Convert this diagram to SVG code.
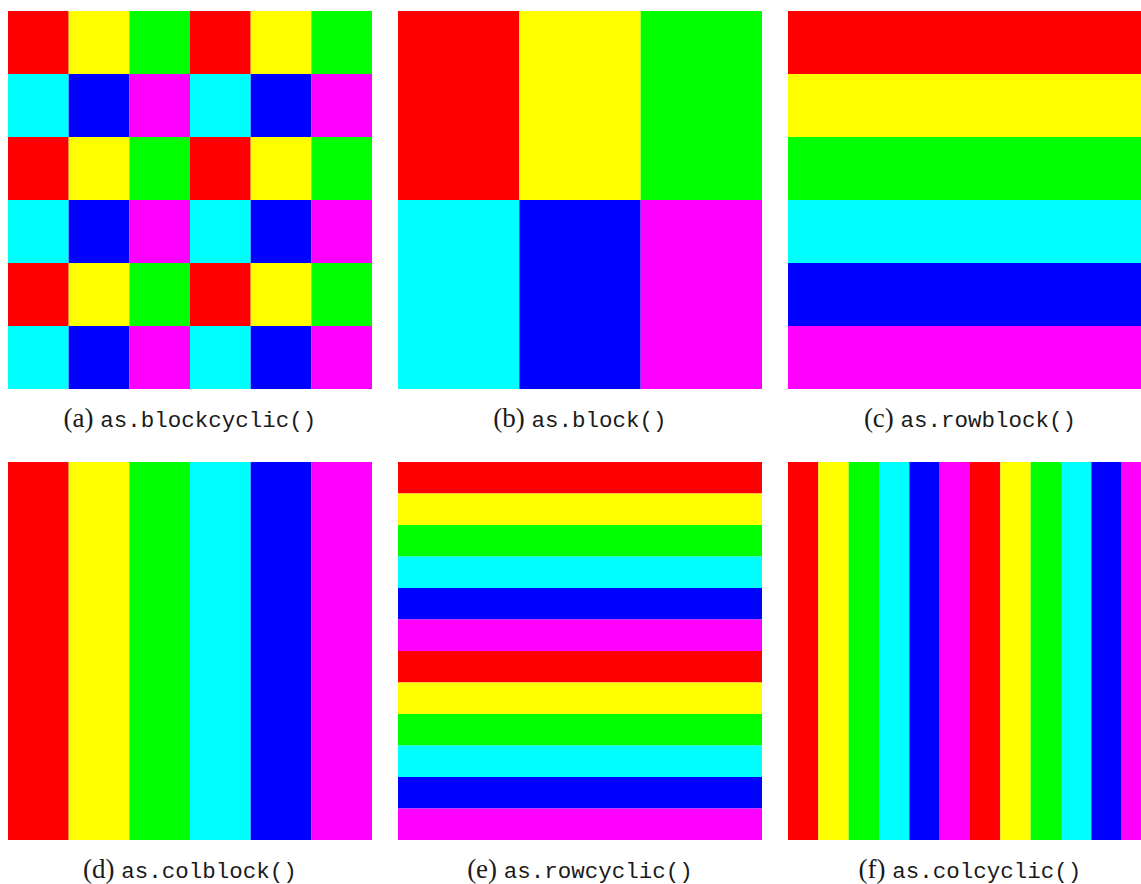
<svg xmlns="http://www.w3.org/2000/svg" width="1141" height="884" viewBox="0 0 1141 884">
<style>
.r{fill:#ff0000}.y{fill:#ffff00}.g{fill:#00ff00}.c{fill:#00ffff}.b{fill:#0000ff}.m{fill:#ff00ff}
.cap{font-family:"Liberation Serif","DejaVu Serif",serif;font-size:27px;fill:#1a1a1a}
.tt{font-family:"Liberation Mono","DejaVu Sans Mono",monospace;font-size:22.5px}
</style>
<rect width="1141" height="884" fill="#fff"/>
<g id="panel-a">
<rect class="r" x="8" y="11" width="60.67" height="63"/><rect class="y" x="68.67" y="11" width="60.67" height="63"/><rect class="g" x="129.33" y="11" width="60.67" height="63"/><rect class="r" x="190" y="11" width="60.67" height="63"/><rect class="y" x="250.67" y="11" width="60.67" height="63"/><rect class="g" x="311.33" y="11" width="60.67" height="63"/>
<rect class="c" x="8" y="74" width="60.67" height="63"/><rect class="b" x="68.67" y="74" width="60.67" height="63"/><rect class="m" x="129.33" y="74" width="60.67" height="63"/><rect class="c" x="190" y="74" width="60.67" height="63"/><rect class="b" x="250.67" y="74" width="60.67" height="63"/><rect class="m" x="311.33" y="74" width="60.67" height="63"/>
<rect class="r" x="8" y="137" width="60.67" height="63"/><rect class="y" x="68.67" y="137" width="60.67" height="63"/><rect class="g" x="129.33" y="137" width="60.67" height="63"/><rect class="r" x="190" y="137" width="60.67" height="63"/><rect class="y" x="250.67" y="137" width="60.67" height="63"/><rect class="g" x="311.33" y="137" width="60.67" height="63"/>
<rect class="c" x="8" y="200" width="60.67" height="63"/><rect class="b" x="68.67" y="200" width="60.67" height="63"/><rect class="m" x="129.33" y="200" width="60.67" height="63"/><rect class="c" x="190" y="200" width="60.67" height="63"/><rect class="b" x="250.67" y="200" width="60.67" height="63"/><rect class="m" x="311.33" y="200" width="60.67" height="63"/>
<rect class="r" x="8" y="263" width="60.67" height="63"/><rect class="y" x="68.67" y="263" width="60.67" height="63"/><rect class="g" x="129.33" y="263" width="60.67" height="63"/><rect class="r" x="190" y="263" width="60.67" height="63"/><rect class="y" x="250.67" y="263" width="60.67" height="63"/><rect class="g" x="311.33" y="263" width="60.67" height="63"/>
<rect class="c" x="8" y="326" width="60.67" height="63"/><rect class="b" x="68.67" y="326" width="60.67" height="63"/><rect class="m" x="129.33" y="326" width="60.67" height="63"/><rect class="c" x="190" y="326" width="60.67" height="63"/><rect class="b" x="250.67" y="326" width="60.67" height="63"/><rect class="m" x="311.33" y="326" width="60.67" height="63"/>
<text class="cap" x="190" y="427" text-anchor="middle">(a) <tspan class="tt">as.blockcyclic()</tspan></text>
</g>
<g id="panel-b">
<rect class="r" x="398" y="11" width="121.33" height="189"/><rect class="y" x="519.33" y="11" width="121.33" height="189"/><rect class="g" x="640.67" y="11" width="121.33" height="189"/>
<rect class="c" x="398" y="200" width="121.33" height="189"/><rect class="b" x="519.33" y="200" width="121.33" height="189"/><rect class="m" x="640.67" y="200" width="121.33" height="189"/>
<text class="cap" x="580" y="427" text-anchor="middle">(b) <tspan class="tt">as.block()</tspan></text>
</g>
<g id="panel-c">
<rect class="r" x="788" y="11" width="364" height="63"/><rect class="y" x="788" y="74" width="364" height="63"/><rect class="g" x="788" y="137" width="364" height="63"/><rect class="c" x="788" y="200" width="364" height="63"/><rect class="b" x="788" y="263" width="364" height="63"/><rect class="m" x="788" y="326" width="364" height="63"/>
<text class="cap" x="970" y="427" text-anchor="middle">(c) <tspan class="tt">as.rowblock()</tspan></text>
</g>
<g id="panel-d">
<rect class="r" x="8" y="462" width="60.67" height="378"/><rect class="y" x="68.67" y="462" width="60.67" height="378"/><rect class="g" x="129.33" y="462" width="60.67" height="378"/><rect class="c" x="190" y="462" width="60.67" height="378"/><rect class="b" x="250.67" y="462" width="60.67" height="378"/><rect class="m" x="311.33" y="462" width="60.67" height="378"/>
<text class="cap" x="190" y="878" text-anchor="middle">(d) <tspan class="tt">as.colblock()</tspan></text>
</g>
<g id="panel-e">
<rect class="r" x="398" y="462" width="364" height="31.5"/><rect class="y" x="398" y="493.5" width="364" height="31.5"/><rect class="g" x="398" y="525" width="364" height="31.5"/><rect class="c" x="398" y="556.5" width="364" height="31.5"/><rect class="b" x="398" y="588" width="364" height="31.5"/><rect class="m" x="398" y="619.5" width="364" height="31.5"/>
<rect class="r" x="398" y="651" width="364" height="31.5"/><rect class="y" x="398" y="682.5" width="364" height="31.5"/><rect class="g" x="398" y="714" width="364" height="31.5"/><rect class="c" x="398" y="745.5" width="364" height="31.5"/><rect class="b" x="398" y="777" width="364" height="31.5"/><rect class="m" x="398" y="808.5" width="364" height="31.5"/>
<text class="cap" x="580" y="878" text-anchor="middle">(e) <tspan class="tt">as.rowcyclic()</tspan></text>
</g>
<g id="panel-f">
<rect class="r" x="788" y="462" width="30.33" height="378"/><rect class="y" x="818.33" y="462" width="30.33" height="378"/><rect class="g" x="848.67" y="462" width="30.33" height="378"/><rect class="c" x="879" y="462" width="30.33" height="378"/><rect class="b" x="909.33" y="462" width="30.33" height="378"/><rect class="m" x="939.67" y="462" width="30.33" height="378"/>
<rect class="r" x="970" y="462" width="30.33" height="378"/><rect class="y" x="1000.33" y="462" width="30.33" height="378"/><rect class="g" x="1030.67" y="462" width="30.33" height="378"/><rect class="c" x="1061" y="462" width="30.33" height="378"/><rect class="b" x="1091.33" y="462" width="30.33" height="378"/><rect class="m" x="1121.67" y="462" width="30.33" height="378"/>
<text class="cap" x="970" y="878" text-anchor="middle">(f) <tspan class="tt">as.colcyclic()</tspan></text>
</g>
</svg>
